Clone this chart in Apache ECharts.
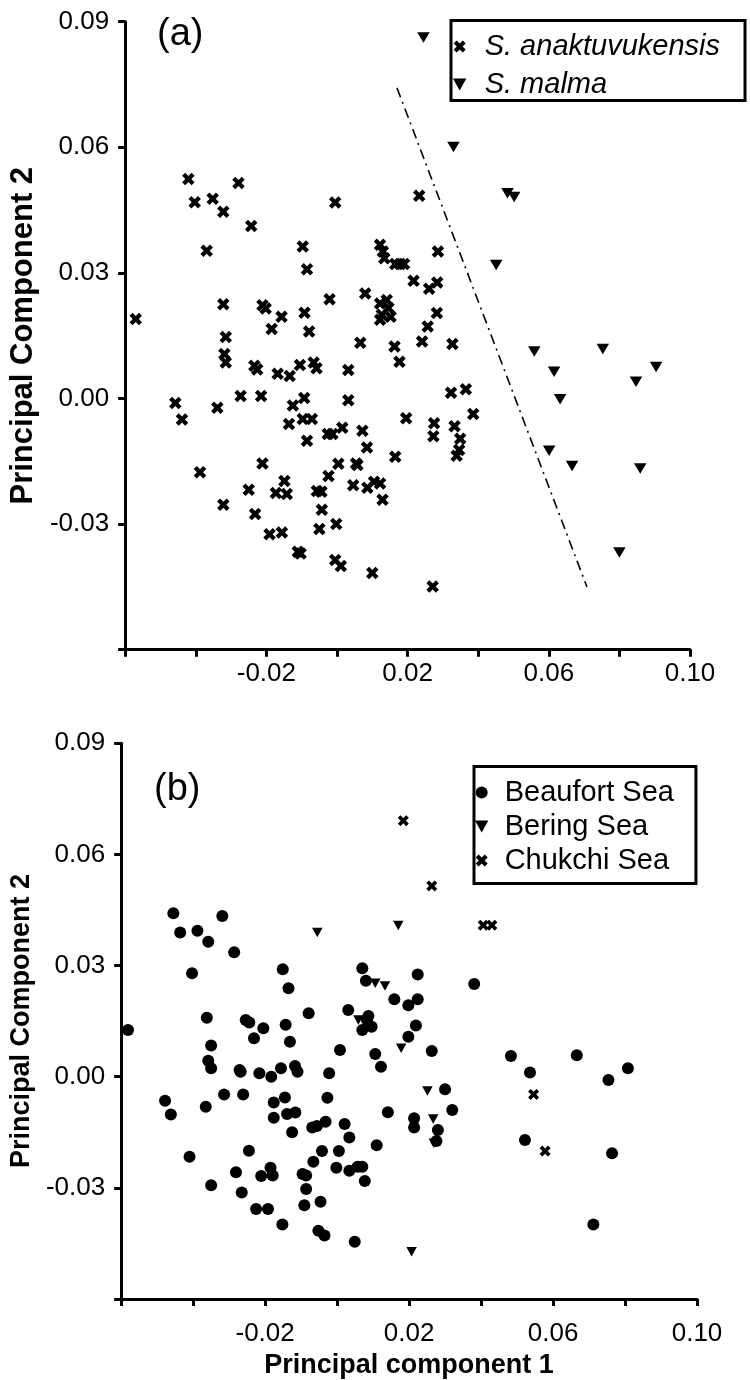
<!DOCTYPE html>
<html>
<head>
<meta charset="utf-8">
<title>PCA scatter</title>
<script src="https://cdn.jsdelivr.net/npm/echarts@6/dist/echarts.min.js"></script>
<style>
  html, body { margin: 0; padding: 0; background: #fff; }
  #main { width: 750px; height: 1380px; }
</style>
</head>
<body>
<div id="main"></div>
<script>
// panel (a): species, [PC1, PC2]
var anaktuvukensis = [
  [-0.0421,0.0524],[-0.0403,0.0469],[-0.0352,0.0477],[-0.0322,0.0446],[-0.0279,0.0515],[-0.0243,0.0412],[-0.0369,0.0353],[-0.0005,0.0468],[-0.0097,0.0363],[-0.0085,0.0309],
  [-0.0570,0.0190],[-0.0322,0.0225],[-0.0211,0.0223],[-0.0202,0.0215],[-0.0157,0.0195],[-0.0185,0.0166],[-0.0092,0.0205],[-0.0079,0.0160],[-0.0021,0.0237],[-0.0315,0.0147],
  [-0.0319,0.0106],[-0.0315,0.0086],[-0.0234,0.0078],[-0.0226,0.0069],[-0.0168,0.0059],[-0.0134,0.0054],[-0.0105,0.0080],[-0.0066,0.0086],[-0.0058,0.0072],[0.0032,0.0068],
  [-0.0458,-0.0011],[-0.0439,-0.0050],[-0.0339,-0.0022],[-0.0273,0.0006],[-0.0215,0.0006],[-0.0125,-0.0017],[-0.0093,0.0001],[-0.0136,-0.0061],[-0.0097,-0.0049],[-0.0071,-0.0049],
  [-0.0085,-0.0101],[-0.0026,-0.0085],[-0.0013,-0.0085],[0.0015,-0.0070],[0.0032,-0.0004],[-0.0211,-0.0155],[-0.0388,-0.0176],[-0.0024,-0.0185],[0.0004,-0.0156],[-0.0149,-0.0197],
  [-0.0250,-0.0218],[-0.0173,-0.0226],[-0.0142,-0.0228],[-0.0057,-0.0221],[-0.0044,-0.0223],[0.0046,-0.0207],[-0.0322,-0.0254],[-0.0232,-0.0276],[-0.0043,-0.0266],[-0.0050,-0.0312],
  [-0.0002,-0.0300],[-0.0191,-0.0324],[-0.0156,-0.0320],[-0.0111,-0.0366],[-0.0103,-0.0370],[-0.0005,-0.0386],[0.0011,-0.0400],[0.0233,0.0484],[0.0122,0.0367],[0.0130,0.0351],
  [0.0134,0.0335],[0.0165,0.0321],[0.0179,0.0321],[0.0190,0.0321],[0.0286,0.0351],[0.0217,0.0281],[0.0261,0.0262],[0.0284,0.0277],[0.0080,0.0251],[0.0122,0.0227],
  [0.0141,0.0235],[0.0146,0.0216],[0.0127,0.0200],[0.0152,0.0195],[0.0122,0.0188],[0.0283,0.0204],[0.0257,0.0172],[0.0066,0.0133],[0.0163,0.0124],[0.0241,0.0136],
  [0.0327,0.0130],[0.0177,0.0088],[0.0072,-0.0077],[0.0085,-0.0117],[0.0196,-0.0047],[0.0323,0.0014],[0.0365,0.0022],[0.0386,-0.0037],[0.0275,-0.0059],[0.0273,-0.0090],
  [0.0333,-0.0066],[0.0349,-0.0096],[0.0346,-0.0123],[0.0339,-0.0137],[0.0165,-0.0139],[0.0054,-0.0155],[0.0058,-0.0159],[0.0086,-0.0213],[0.0105,-0.0199],[0.0122,-0.0203],
  [0.0129,-0.0242],[0.0100,-0.0417],[0.0271,-0.0449]
]
var malma = [
  [0.0245,0.0862],[0.0330,0.0601],[0.0483,0.0490],[0.0502,0.0481],[0.0451,0.0319],[0.0559,0.0112],[0.0753,0.0118],[0.0615,0.0064],
  [0.0904,0.0075],[0.0847,0.0040],[0.0632,-0.0002],[0.0601,-0.0125],[0.0666,-0.0161],[0.0859,-0.0167],[0.0800,-0.0368]
]
// dash-dot separating line in (a)
var divider = [[0.0170,0.0742],[0.0708,-0.0450]]

// panel (b): sampling region, [PC1, PC2]
var beaufort = [
  [-0.0455,0.0441],[-0.0436,0.0389],[-0.0388,0.0394],[-0.0358,0.0364],[-0.0319,0.0434],[-0.0286,0.0336],[-0.0403,0.0279],[-0.0581,0.0126],[-0.0151,0.0290],[-0.0135,0.0239],
  [-0.0362,0.0159],[-0.0254,0.0153],[-0.0244,0.0146],[-0.0205,0.0131],[-0.0231,0.0104],[-0.0143,0.0140],[-0.0131,0.0094],[-0.0079,0.0171],[-0.0350,0.0084],[-0.0358,0.0043],
  [-0.0350,0.0023],[-0.0271,0.0018],[-0.0268,0.0013],[-0.0216,0.0009],[-0.0183,0.0000],[-0.0156,0.0023],[-0.0117,0.0029],[-0.0110,0.0013],[-0.0022,0.0009],[0.0008,0.0072],
  [0.0031,0.0180],[0.0070,0.0293],[0.0080,0.0259],[0.0159,0.0209],[0.0087,0.0164],[0.0083,0.0153],[0.0070,0.0126],[0.0096,0.0135],[0.0106,0.0061],[0.0122,0.0027],
  [0.0224,0.0276],[0.0381,0.0250],[0.0198,0.0193],[0.0224,0.0209],[0.0219,0.0138],[0.0198,0.0108],[0.0263,0.0069],[0.0483,0.0056],[0.0536,0.0011],[0.0666,0.0058],
  [0.0808,0.0023],[0.0754,-0.0009],[-0.0478,-0.0065],[-0.0462,-0.0102],[-0.0365,-0.0081],[-0.0314,-0.0048],[-0.0261,-0.0048],[-0.0176,-0.0070],[-0.0145,-0.0056],[-0.0176,-0.0111],
  [-0.0139,-0.0101],[-0.0116,-0.0097],[-0.0125,-0.0150],[-0.0069,-0.0137],[-0.0056,-0.0133],[-0.0032,-0.0122],[-0.0027,-0.0057],[0.0021,-0.0128],[0.0034,-0.0164],[0.0141,-0.0096],
  [0.0110,-0.0185],[0.0214,-0.0112],[0.0214,-0.0137],[0.0300,-0.0034],[0.0320,-0.0090],[0.0280,-0.0144],[0.0276,-0.0174],[-0.0410,-0.0216],[-0.0245,-0.0200],[-0.0281,-0.0258],
  [-0.0350,-0.0293],[-0.0265,-0.0313],[-0.0211,-0.0268],[-0.0185,-0.0246],[-0.0179,-0.0267],[-0.0096,-0.0263],[-0.0086,-0.0267],[-0.0066,-0.0230],[-0.0042,-0.0201],[0.0005,-0.0201],
  [-0.0002,-0.0246],[0.0034,-0.0254],[0.0057,-0.0243],[0.0070,-0.0243],[0.0077,-0.0282],[-0.0086,-0.0303],[-0.0046,-0.0338],[-0.0091,-0.0347],[-0.0225,-0.0357],[-0.0192,-0.0357],
  [-0.0152,-0.0399],[-0.0052,-0.0416],[-0.0035,-0.0429],[0.0049,-0.0446],[0.0522,-0.0171],[0.0764,-0.0207],[0.0712,-0.0399]
]
var bering = [
  [-0.0055,0.0389],[0.0170,0.0408],[0.0106,0.0252],[0.0133,0.0245],[0.0059,0.0153],
  [0.0178,0.0077],[0.0251,-0.0039],[0.0267,-0.0114],[0.0269,-0.0180],[0.0207,-0.0473]
]
var chukchi = [
  [0.0184,0.0691],[0.0263,0.0515],[0.0406,0.0409],[0.0430,0.0409],[0.0546,-0.0048],[0.0578,-0.0201]
]

var FONT = "'Liberation Sans', Arial, sans-serif"
// bold x marker and downward triangle
var CROSS = 'path://M2.4,0 L5,2.6 L7.6,0 L10,2.4 L7.4,5 L10,7.6 L7.6,10 L5,7.4 L2.4,10 L0,7.6 L2.6,5 L0,2.4 Z'
var TRI_DOWN = 'path://M0,0 L10,0 L5,9 Z'

// x labels only at -0.02, 0.02, 0.06, 0.10
function fmtX(v) {
  var k = Math.round(v * 100)
  if (k === -6 || (k + 2) % 4 !== 0) return ''
  return (k / 100).toFixed(2)
}
function fmtY(v) {
  var k = Math.round(v * 100)
  if (k === -6) return ''
  return (k / 100).toFixed(2)
}

var axisLineStyle = { color: '#000', width: 3 }
var solid = { color: '#000', opacity: 1 }

function makeX(gridIndex, margin, name) {
  return {
    type: 'value', gridIndex: gridIndex,
    min: -0.06, max: 0.10, interval: 0.02,
    axisLine: { onZero: false, lineStyle: axisLineStyle },
    axisTick: { length: 7, lineStyle: axisLineStyle },
    splitLine: { show: false },
    axisLabel: { margin: margin, fontSize: 26, color: '#000', fontFamily: FONT, formatter: fmtX, showMaxLabel: true },
    name: name, nameLocation: 'middle', nameGap: 53,
    nameTextStyle: { fontFamily: FONT, fontSize: 27, fontWeight: 'bold', color: '#000' }
  }
}
function makeY(gridIndex, nameSize, nameGap) {
  return {
    type: 'value', gridIndex: gridIndex,
    min: -0.06, max: 0.09, interval: 0.03,
    axisLine: { onZero: false, lineStyle: axisLineStyle },
    axisTick: { length: 7, lineStyle: axisLineStyle },
    splitLine: { show: false },
    axisLabel: { margin: 16, fontSize: 26, color: '#000', fontFamily: FONT, formatter: fmtY, showMaxLabel: true },
    name: 'Principal Component 2', nameLocation: 'middle', nameGap: nameGap,
    nameTextStyle: { fontFamily: FONT, fontSize: nameSize, fontWeight: 'bold', color: '#000' }
  }
}

var myChart = echarts.init(document.getElementById('main'), null, { renderer: 'canvas' })

var option = {
  animation: false,
  backgroundColor: '#fff',
  title: [
    { text: '(a)', left: 157, top: 16, padding: 0, textStyle: { fontFamily: FONT, fontSize: 38, fontWeight: 'normal', color: '#000' } },
    { text: '(b)', left: 154, top: 771, padding: 0, textStyle: { fontFamily: FONT, fontSize: 38, fontWeight: 'normal', color: '#000' } }
  ],
  legend: [
    {
      orient: 'vertical', left: 451, top: 20.5,
      itemWidth: 40, itemHeight: 12, itemGap: 8,
      padding: [11, 25, 1, 2],
      borderColor: '#000', borderWidth: 3,
      selectedMode: false,
      textStyle: { fontFamily: FONT, fontSize: 29, fontStyle: 'italic', color: '#000', lineHeight: 30 },
      data: ['S. anaktuvukensis', 'S. malma']
    },
    {
      orient: 'vertical', left: 474, top: 766.5,
      itemWidth: 36, itemHeight: 12, itemGap: 4,
      padding: [11, 22, 8, 1],
      borderColor: '#000', borderWidth: 3,
      selectedMode: false,
      textStyle: { fontFamily: FONT, fontSize: 29, color: '#000', lineHeight: 30 },
      data: ['Beaufort Sea', 'Bering Sea', 'Chukchi Sea']
    }
  ],
  grid: [
    { left: 125, top: 21.7, width: 565, height: 628 },
    { left: 121, top: 743.3, width: 576, height: 555.6 }
  ],
  xAxis: [makeX(0, 11, ''), makeX(1, 22, 'Principal component 1')],
  yAxis: [makeY(0, 31, 80), makeY(1, 27, 82)],
  series: [
    {
      name: 'S. anaktuvukensis', type: 'scatter', xAxisIndex: 0, yAxisIndex: 0,
      symbol: CROSS, symbolSize: 12.5, itemStyle: solid, data: anaktuvukensis
    },
    {
      name: 'S. malma', type: 'scatter', xAxisIndex: 0, yAxisIndex: 0,
      symbol: TRI_DOWN, symbolSize: [12.5, 10.5], itemStyle: solid, data: malma
    },
    {
      name: 'divider', type: 'line', xAxisIndex: 0, yAxisIndex: 0,
      symbol: 'none', silent: true,
      lineStyle: { color: '#000', width: 1.6, type: [10, 5, 2, 5] },
      data: divider
    },
    {
      name: 'Beaufort Sea', type: 'scatter', xAxisIndex: 1, yAxisIndex: 1,
      symbol: 'circle', symbolSize: 12, itemStyle: solid, data: beaufort
    },
    {
      name: 'Bering Sea', type: 'scatter', xAxisIndex: 1, yAxisIndex: 1,
      symbol: TRI_DOWN, symbolSize: [10.5, 9.5], itemStyle: solid, data: bering
    },
    {
      name: 'Chukchi Sea', type: 'scatter', xAxisIndex: 1, yAxisIndex: 1,
      symbol: CROSS, symbolSize: 11, itemStyle: solid, data: chukchi
    }
  ]
}

myChart.setOption(option)
</script>
</body>
</html>
